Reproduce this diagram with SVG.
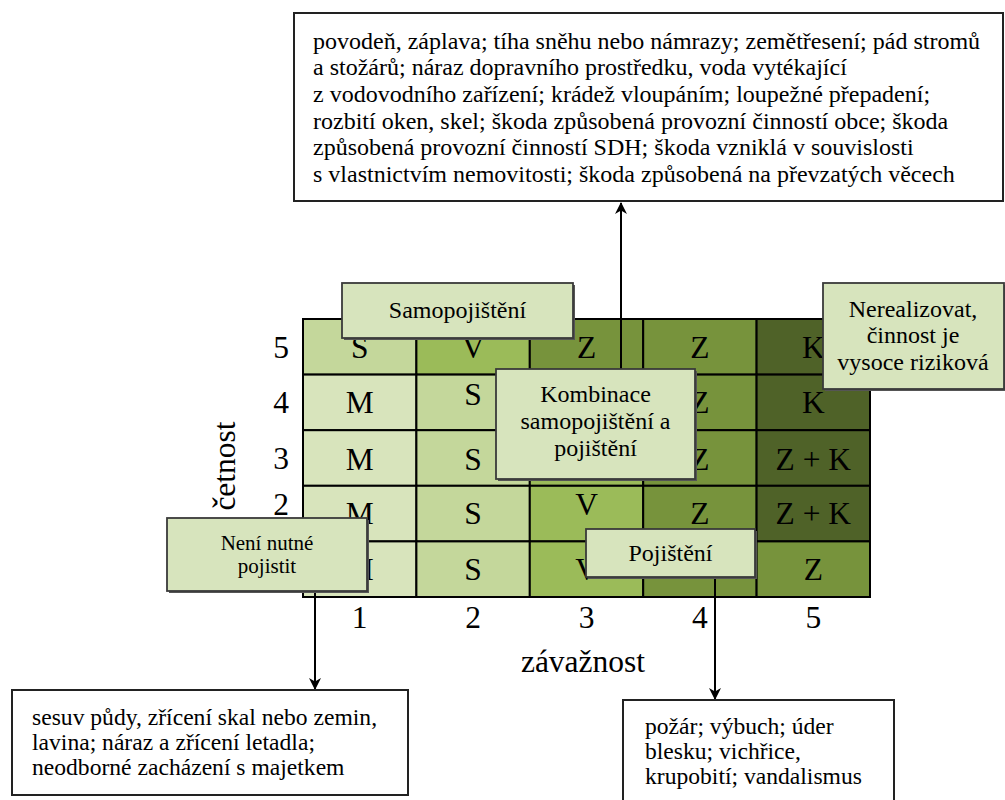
<svg xmlns="http://www.w3.org/2000/svg" width="1005" height="800" viewBox="0 0 1005 800">
<defs>
<style>
text{font-family:"Liberation Serif","Times New Roman",serif;fill:#000}
.cell{stroke:#000;stroke-width:2}
.c1{fill:#d8e4bc}.c2{fill:#c4d79b}.c3{fill:#9bbb59}.c4{fill:#77933c}.c5{fill:#4f6228}
.big{font-size:31.5px;text-anchor:middle}
.lbl{fill:#d7e4bd;stroke:#3a3a3a;stroke-width:1.8}
.shd{fill:#555}
.lt{font-size:24px;text-anchor:middle}
.bx{fill:#fff;stroke:#222;stroke-width:2}
.bt{font-size:24px}
.bs{font-size:23.6px}
.con{stroke:#000;stroke-width:2;fill:none}
</style>
<marker id="ah" viewBox="0 0 12 12" refX="11" refY="6" markerWidth="12" markerHeight="12" markerUnits="userSpaceOnUse" orient="auto">
<path d="M0,0 L12,6 L0,12 L3.5,6 z" fill="#000"/>
</marker>
</defs>

<g id="matrix">
<rect class="cell c2" x="303" y="319" width="113.4" height="55.6"/>
<rect class="cell c3" x="416.4" y="319" width="113.4" height="55.6"/>
<rect class="cell c4" x="529.8" y="319" width="113.4" height="55.6"/>
<rect class="cell c4" x="643.2" y="319" width="113.4" height="55.6"/>
<rect class="cell c5" x="756.6" y="319" width="113.4" height="55.6"/>
<rect class="cell c1" x="303" y="374.6" width="113.4" height="55.6"/>
<rect class="cell c2" x="416.4" y="374.6" width="113.4" height="55.6"/>
<rect class="cell c3" x="529.8" y="374.6" width="113.4" height="55.6"/>
<rect class="cell c4" x="643.2" y="374.6" width="113.4" height="55.6"/>
<rect class="cell c5" x="756.6" y="374.6" width="113.4" height="55.6"/>
<rect class="cell c1" x="303" y="430.2" width="113.4" height="55.6"/>
<rect class="cell c2" x="416.4" y="430.2" width="113.4" height="55.6"/>
<rect class="cell c3" x="529.8" y="430.2" width="113.4" height="55.6"/>
<rect class="cell c4" x="643.2" y="430.2" width="113.4" height="55.6"/>
<rect class="cell c5" x="756.6" y="430.2" width="113.4" height="55.6"/>
<rect class="cell c1" x="303" y="485.8" width="113.4" height="55.6"/>
<rect class="cell c2" x="416.4" y="485.8" width="113.4" height="55.6"/>
<rect class="cell c3" x="529.8" y="485.8" width="113.4" height="55.6"/>
<rect class="cell c4" x="643.2" y="485.8" width="113.4" height="55.6"/>
<rect class="cell c5" x="756.6" y="485.8" width="113.4" height="55.6"/>
<rect class="cell c1" x="303" y="541.4" width="113.4" height="55.6"/>
<rect class="cell c2" x="416.4" y="541.4" width="113.4" height="55.6"/>
<rect class="cell c3" x="529.8" y="541.4" width="113.4" height="55.6"/>
<rect class="cell c4" x="643.2" y="541.4" width="113.4" height="55.6"/>
<rect class="cell c4" x="756.6" y="541.4" width="113.4" height="55.6"/>

<text class="big" x="359.7" y="358">S</text>
<text class="big" x="473.1" y="358">V</text>
<text class="big" x="586.5" y="358">Z</text>
<text class="big" x="699.9" y="358">Z</text>
<text class="big" x="813.3" y="358">K</text>
<text class="big" x="359.7" y="413">M</text>
<text class="big" x="473.1" y="405">S</text>
<text class="big" x="699.9" y="413">Z</text>
<text class="big" x="813.3" y="413">K</text>
<text class="big" x="359.7" y="470">M</text>
<text class="big" x="473.1" y="470">S</text>
<text class="big" x="699.9" y="470">Z</text>
<text class="big" x="813.3" y="470">Z + K</text>
<text class="big" x="359.7" y="524">M</text>
<text class="big" x="473.1" y="524">S</text>
<text class="big" x="586.5" y="515">V</text>
<text class="big" x="699.9" y="524">Z</text>
<text class="big" x="813.3" y="524">Z + K</text>
<text class="big" x="359.7" y="580">M</text>
<text class="big" x="473.1" y="580">S</text>
<text class="big" x="586.5" y="580">V</text>
<text class="big" x="813.3" y="580">Z</text>
</g>

<g id="axes">
<text class="big" x="281" y="358">5</text>
<text class="big" x="281" y="413">4</text>
<text class="big" x="281" y="469">3</text>
<text class="big" x="281" y="515">2</text>
<text class="big" x="359.7" y="628">1</text>
<text class="big" x="473.1" y="628">2</text>
<text class="big" x="586.5" y="628">3</text>
<text class="big" x="699.9" y="628">4</text>
<text class="big" x="813.3" y="628">5</text>
<text class="big" x="583" y="672">závažnost</text>
<text class="big" transform="translate(235,466) rotate(-90)" x="0" y="0">četnost</text>
</g>

<g id="connectors">
<line class="con" x1="621" y1="369" x2="621" y2="203" marker-end="url(#ah)"/>
<line class="con" x1="315" y1="591" x2="315" y2="689" marker-end="url(#ah)"/>
<line class="con" x1="715" y1="577" x2="715" y2="699" marker-end="url(#ah)"/>
</g>

<g id="samopojisteni">
<rect class="shd" x="344" y="285" width="231" height="55"/>
<rect class="lbl" x="342" y="283" width="231" height="55"/>
<text class="lt" x="457.5" y="318">Samopojištění</text>
</g>

<g id="kombinace">
<rect class="shd" x="498" y="371" width="199" height="110"/>
<rect class="lbl" x="496" y="369" width="199" height="110"/>
<text class="lt" x="595.5" y="402">Kombinace</text>
<text class="lt" x="595.5" y="429">samopojištění a</text>
<text class="lt" x="595.5" y="456">pojištění</text>
</g>

<g id="nerealizovat">
<rect class="shd" x="825" y="285" width="181" height="106"/>
<rect class="lbl" x="823" y="283" width="181" height="106"/>
<text class="lt" x="913" y="317">Nerealizovat,</text>
<text class="lt" x="913" y="343">činnost je</text>
<text class="lt" x="913" y="370">vysoce riziková</text>
</g>

<g id="pojisteni">
<rect class="shd" x="588" y="531" width="169" height="48"/>
<rect class="lbl" x="586" y="529" width="169" height="48"/>
<text class="lt" x="670.5" y="561">Pojištění</text>
</g>

<g id="neni-nutne">
<rect class="shd" x="169" y="520" width="200" height="73"/>
<rect class="lbl" x="167" y="518" width="200" height="73"/>
<text class="lt" style="font-size:21px" x="267" y="550">Není nutné</text>
<text class="lt" style="font-size:21px" x="267" y="573">pojistit</text>
</g>

<g id="top-box">
<rect class="bx" x="294" y="13" width="709" height="188"/>
<text class="bt" x="313" y="48.5">povodeň, záplava; tíha sněhu nebo námrazy; zemětřesení; pád stromů</text>
<text class="bt" x="313" y="75.2">a stožárů; náraz dopravního prostředku, voda vytékající</text>
<text class="bt" x="313" y="101.9">z vodovodního zařízení; krádež vloupáním; loupežné přepadení;</text>
<text class="bt" x="313" y="128.6">rozbití oken, skel; škoda způsobená provozní činností obce; škoda</text>
<text class="bt" x="313" y="155.3">způsobená provozní činností SDH; škoda vzniklá v souvislosti</text>
<text class="bt" x="313" y="182">s vlastnictvím nemovitosti; škoda způsobená na převzatých věcech</text>
</g>

<g id="bottom-left-box">
<rect class="bx" x="12" y="690" width="396" height="105"/>
<text class="bs" x="32" y="725">sesuv půdy, zřícení skal nebo zemin,</text>
<text class="bs" x="32" y="750">lavina; náraz a zřícení letadla;</text>
<text class="bs" x="32" y="775">neodborné zacházení s majetkem</text>
</g>

<g id="bottom-right-box">
<rect class="bx" x="623" y="700" width="271" height="110"/>
<text class="bs" x="645" y="734">požár; výbuch; úder</text>
<text class="bs" x="645" y="759">blesku; vichřice,</text>
<text class="bs" x="645" y="784">krupobití; vandalismus</text>
</g>
</svg>
